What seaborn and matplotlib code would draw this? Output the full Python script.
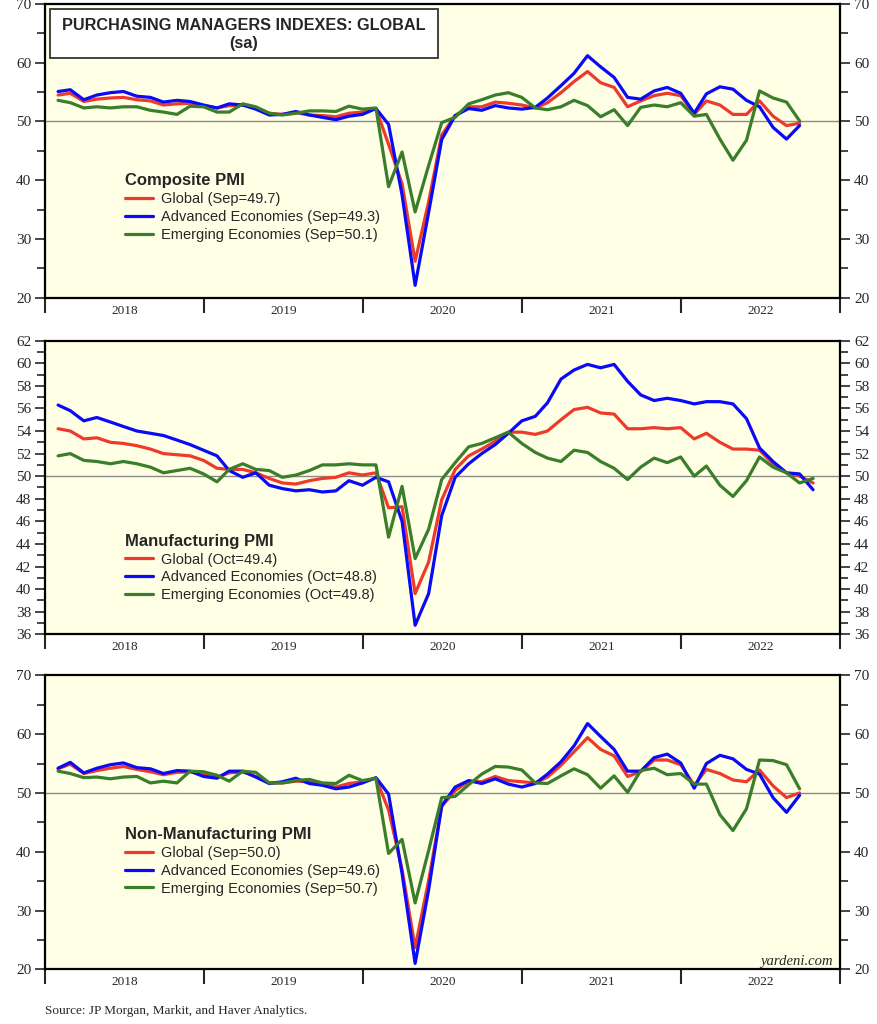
import pandas as pd
import matplotlib
matplotlib.use('Agg')
import matplotlib.pyplot as plt
import matplotlib.dates as mdates
from matplotlib.ticker import MultipleLocator, NullFormatter
from matplotlib.patches import Rectangle
import seaborn as sns

# monthly data, Jan 2018 onwards
comp_global = [54.5, 54.8, 53.4, 53.8, 54.0, 54.1, 53.7, 53.5, 52.8, 53.0,
               53.1, 52.7, 52.3, 52.7, 52.8, 52.3, 51.4, 51.2, 51.5, 51.1,
               51.0, 50.8, 51.4, 51.6, 52.2, 46.1, 39.4, 26.2, 36.3, 47.7,
               51.0, 52.5, 52.5, 53.3, 53.1, 52.8, 52.3, 53.2, 54.9, 56.8,
               58.5, 56.6, 55.8, 52.5, 53.5, 54.4, 54.8, 54.4, 51.2, 53.5,
               52.8, 51.2, 51.2, 53.5, 50.9, 49.3, 49.7]
comp_adv = [55.1, 55.4, 53.7, 54.5, 54.9, 55.1, 54.3, 54.1, 53.3, 53.6,
            53.4, 52.8, 52.3, 53.0, 52.8, 52.1, 51.1, 51.2, 51.7, 51.1,
            50.7, 50.3, 50.9, 51.2, 52.2, 49.5, 37.5, 22.1, 34.5, 46.9,
            51.0, 52.2, 51.9, 52.7, 52.3, 52.1, 52.4, 54.0, 56.1, 58.2,
            61.2, 59.3, 57.5, 54.1, 53.8, 55.2, 55.8, 54.8, 51.4, 54.7,
            55.9, 55.5, 53.6, 52.5, 49.0, 47.0, 49.3]
comp_emg = [53.6, 53.2, 52.3, 52.5, 52.3, 52.5, 52.5, 51.9, 51.6, 51.2,
            52.6, 52.5, 51.6, 51.6, 53.0, 52.5, 51.4, 51.1, 51.4, 51.8,
            51.8, 51.7, 52.6, 52.1, 52.3, 38.9, 44.8, 34.6, 42.5, 49.8,
            50.7, 53.0, 53.7, 54.5, 54.9, 54.1, 52.3, 52.0, 52.5, 53.6,
            52.7, 50.8, 52.0, 49.3, 52.4, 52.8, 52.5, 53.2, 50.9, 51.2,
            47.0, 43.4, 46.8, 55.2, 54.0, 53.3, 50.1]

mfg_global = [54.2, 54.0, 53.3, 53.4, 53.0, 52.9, 52.7, 52.4, 52.0, 51.9,
              51.8, 51.4, 50.7, 50.6, 50.6, 50.3, 49.8, 49.4, 49.3, 49.6,
              49.8, 49.9, 50.3, 50.1, 50.3, 47.2, 47.3, 39.6, 42.4, 47.9,
              50.6, 51.8, 52.4, 53.1, 53.9, 53.9, 53.7, 54.0, 55.0, 55.9,
              56.1, 55.6, 55.5, 54.2, 54.2, 54.3, 54.2, 54.3, 53.3, 53.8,
              53.0, 52.4, 52.4, 52.3, 51.1, 50.3, 50.0, 49.4]
mfg_adv = [56.3, 55.8, 54.9, 55.2, 54.8, 54.4, 54.0, 53.8, 53.6, 53.2,
           52.8, 52.3, 51.8, 50.5, 49.9, 50.3, 49.2, 48.9, 48.7, 48.8,
           48.6, 48.7, 49.6, 49.2, 49.9, 49.5, 46.0, 36.8, 39.6, 46.5,
           49.9, 51.1, 52.0, 52.8, 53.8, 54.9, 55.3, 56.5, 58.6, 59.4,
           59.9, 59.6, 59.9, 58.4, 57.2, 56.7, 56.9, 56.7, 56.4, 56.6,
           56.6, 56.4, 55.1, 52.5, 51.3, 50.3, 50.2, 48.8]
mfg_emg = [51.8, 52.0, 51.4, 51.3, 51.1, 51.3, 51.1, 50.8, 50.3, 50.5,
           50.7, 50.2, 49.5, 50.6, 51.1, 50.6, 50.5, 49.9, 50.1, 50.5,
           51.0, 51.0, 51.1, 51.0, 51.0, 44.6, 49.1, 42.7, 45.3, 49.7,
           51.2, 52.6, 52.9, 53.4, 53.9, 52.9, 52.1, 51.6, 51.3, 52.3,
           52.1, 51.3, 50.7, 49.7, 50.8, 51.6, 51.2, 51.7, 50.0, 50.9,
           49.2, 48.2, 49.6, 51.7, 50.8, 50.3, 49.4, 49.8]

svc_global = [54.1, 54.9, 53.3, 53.8, 54.2, 54.5, 54.0, 53.6, 53.1, 53.5,
              53.6, 53.1, 52.7, 53.4, 53.6, 52.8, 51.7, 51.7, 52.0, 51.9,
              51.5, 51.0, 51.6, 51.9, 52.5, 47.1, 37.0, 23.7, 35.1, 47.7,
              50.4, 52.0, 51.9, 52.8, 52.1, 51.9, 51.7, 52.7, 54.7, 57.0,
              59.4, 57.4, 56.3, 52.8, 53.6, 55.6, 55.6, 54.8, 51.3, 54.0,
              53.3, 52.2, 51.9, 53.9, 51.2, 49.2, 50.0]
svc_adv = [54.2, 55.2, 53.4, 54.2, 54.8, 55.1, 54.3, 54.1, 53.3, 53.8,
           53.7, 52.8, 52.5, 53.7, 53.7, 52.7, 51.6, 51.9, 52.5, 51.6,
           51.3, 50.7, 51.0, 51.7, 52.6, 49.8, 36.3, 21.0, 33.5, 47.8,
           51.0, 52.1, 51.6, 52.4, 51.5, 51.0, 51.6, 53.2, 55.3, 58.0,
           61.8, 59.6, 57.4, 53.7, 53.7, 56.0, 56.6, 55.1, 50.8, 55.0,
           56.4, 55.8, 54.0, 53.2, 49.2, 46.7, 49.6]
svc_emg = [53.7, 53.3, 52.6, 52.7, 52.4, 52.7, 52.8, 51.7, 52.0, 51.7,
           53.7, 53.6, 53.0, 52.0, 53.7, 53.5, 51.7, 51.7, 52.1, 52.3,
           51.7, 51.6, 53.0, 52.1, 52.5, 39.7, 42.1, 31.3, 40.2, 49.2,
           49.4, 51.4, 53.2, 54.5, 54.4, 53.9, 51.7, 51.6, 52.9, 54.1,
           53.1, 50.8, 52.9, 50.1, 53.8, 54.2, 53.1, 53.3, 51.5, 51.5,
           46.3, 43.6, 47.3, 55.6, 55.5, 54.8, 50.7]

series_names = ['Global', 'Advanced Economies', 'Emerging Economies']
colors = ['#EE3A2A', '#0A0AF8', '#3A7D2A']

panels = [
    ('Composite PMI', 'Sep', [comp_global, comp_adv, comp_emg], (20, 70)),
    ('Manufacturing PMI', 'Oct', [mfg_global, mfg_adv, mfg_emg], (36, 62)),
    ('Non-Manufacturing PMI', 'Sep', [svc_global, svc_adv, svc_emg], (20, 70)),
]

sns.set_style('ticks')
plt.rcParams['font.family'] = ['Liberation Serif', 'DejaVu Serif']

SANS = ['Liberation Sans', 'DejaVu Sans']

fig = plt.figure(figsize=(8.78, 10.24), dpi=100)
ax_pos = [
    [0.0513, 0.7093, 0.9055, 0.2868],
    [0.0513, 0.3806, 0.9055, 0.2867],
    [0.0513, 0.0534, 0.9055, 0.2871],
]
legend_y = [0.425, 0.343, 0.485]

axes = []
for i, (title, last_month, vals, ylim) in enumerate(panels):
    ax = fig.add_axes(ax_pos[i])
    ax.set_facecolor('#FFFFE6')

    n = len(vals[0])
    dates = pd.date_range('2018-01-01', periods=n, freq='MS') + pd.offsets.MonthEnd(0)
    frames = []
    labels = []
    for name, v in zip(series_names, vals):
        lab = f'{name} ({last_month}={v[-1]:.1f})'
        labels.append(lab)
        frames.append(pd.DataFrame({'date': dates, 'value': v, 'series': lab}))
    df = pd.concat(frames, ignore_index=True)

    ax.axhline(50, color='#8a8a8a', lw=1.0, zorder=1)
    sns.lineplot(data=df, x='date', y='value', hue='series', hue_order=labels,
                 palette=dict(zip(labels, colors)), linewidth=2.3, ax=ax,
                 zorder=3)

    ax.set_xlim(pd.Timestamp('2018-01-01'), pd.Timestamp('2023-01-01'))
    ax.set_ylim(*ylim)
    ax.set_xlabel('')
    ax.set_ylabel('')

    # x axis: ticks at year boundaries, labels mid-year
    ax.xaxis.set_major_locator(mdates.YearLocator())
    ax.xaxis.set_major_formatter(NullFormatter())
    ax.xaxis.set_minor_locator(mdates.MonthLocator(bymonth=7, bymonthday=2))
    ax.xaxis.set_minor_formatter(mdates.DateFormatter('%Y'))
    ax.tick_params(axis='x', which='major', direction='out', length=11, width=1.5)
    ax.tick_params(axis='x', which='minor', length=0, pad=5, labelsize=9.5)

    # y axis both sides
    if ylim == (36, 62):
        ax.yaxis.set_major_locator(MultipleLocator(2))
        ax.yaxis.set_minor_locator(MultipleLocator(1))
    else:
        ax.yaxis.set_major_locator(MultipleLocator(10))
        ax.yaxis.set_minor_locator(MultipleLocator(5))
    ax.tick_params(axis='y', which='both', direction='out', left=True, right=True,
                   labelleft=True, labelright=True, width=1.2, labelsize=11)
    ax.tick_params(axis='y', which='major', length=7, pad=3)
    ax.tick_params(axis='y', which='minor', length=6)

    for sp in ax.spines.values():
        sp.set_visible(True)
        sp.set_linewidth(1.6)
        sp.set_color('black')

    leg = ax.legend(loc='upper left', bbox_to_anchor=(0.1, legend_y[i]),
                    frameon=False, title=title, alignment='left',
                    prop={'family': SANS, 'size': 10.5},
                    title_fontproperties={'family': SANS, 'size': 12, 'weight': 'bold'},
                    handlelength=1.95, handletextpad=0.55, labelspacing=0.27,
                    borderpad=0, borderaxespad=0)
    for line in leg.get_lines():
        line.set_linewidth(2.3)
    axes.append(ax)

# title box in the top panel
ax1 = axes[0]
ax1.add_patch(Rectangle((0.006, 0.816), 0.488, 0.167, transform=ax1.transAxes,
                        facecolor='white', edgecolor='#333333', lw=1.3, zorder=5))
ax1.text(0.25, 0.926, 'PURCHASING MANAGERS INDEXES: GLOBAL', transform=ax1.transAxes,
         ha='center', va='center', family=SANS, fontsize=11.7, fontweight='bold', zorder=6)
ax1.text(0.25, 0.864, '(sa)', transform=ax1.transAxes,
         ha='center', va='center', family=SANS, fontsize=11.7, fontweight='bold', zorder=6)

axes[2].text(0.991, 0.028, 'yardeni.com', transform=axes[2].transAxes,
             ha='right', va='center', fontsize=10.5, style='italic')

fig.text(45 / 878, 1 - 1011 / 1024, 'Source: JP Morgan, Markit, and Haver Analytics.',
         ha='left', va='center', fontsize=9.5)

fig.savefig('out.png', dpi=100)
